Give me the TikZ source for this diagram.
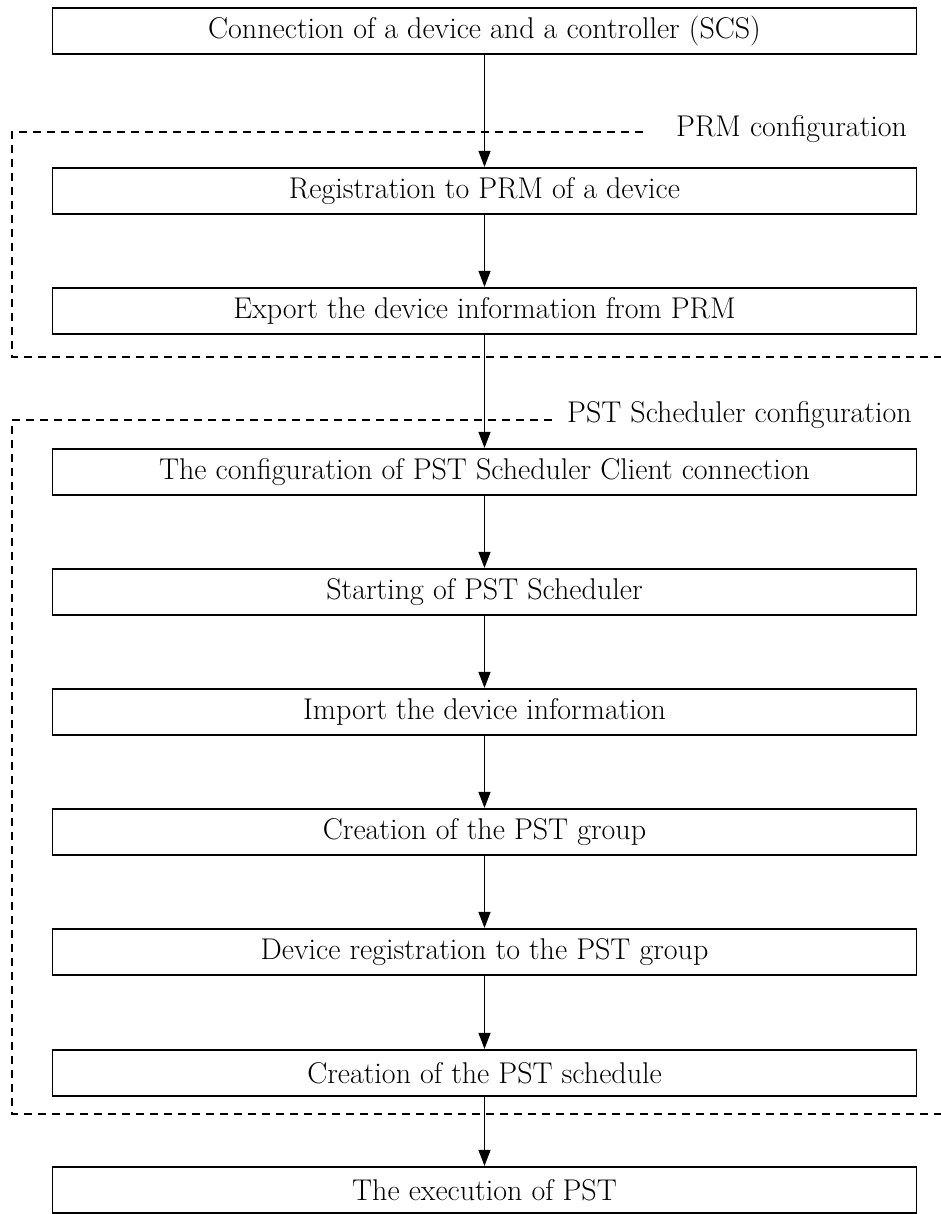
\documentclass[tikz,border=0pt]{standalone}
\usepackage{xcolor}
\usepackage{tikz}
\usetikzlibrary{arrows.meta}

\begin{document}
\begin{tikzpicture}[x=1pt,y=-1pt]
% Define sizes
\newlength{\boxwidth}
\setlength{\boxwidth}{864pt}
\newlength{\boxheight}
\setlength{\boxheight}{46.5pt}

% Define styles
\tikzset{
  stepbox/.style={draw, line width=1.7pt, minimum width=\boxwidth, minimum height=\boxheight,
    inner sep=0pt, font=\fontsize{30}{36}\selectfont},
  flow/.style={-{Triangle[length=16pt,width=12pt]}, line width=1.2pt},
  groupline/.style={line width=1.6pt, dash pattern=on 8pt off 6pt},
  grouplabel/.style={anchor=base west, inner sep=0pt, font=\fontsize{30}{36}\selectfont}
}

% Page size
\useasboundingbox (0,0) rectangle (941,1214);

% Steps
\node[stepbox] (conn) at (484.5,31) {Connection of a device and a controller (SCS)};
\node[stepbox] (reg) at (484.5,191) {Registration to PRM of a device};
\node[stepbox] (export) at (484.5,311) {Export the device information from PRM};
\node[stepbox] (clientcfg) at (484.5,472) {The configuration of PST Scheduler Client connection};
\node[stepbox] (start) at (484.5,592) {Starting of PST Scheduler};
\node[stepbox] (import) at (484.5,712) {Import the device information};
\node[stepbox] (group) at (484.5,832) {Creation of the PST group};
\node[stepbox] (devreg) at (484.5,952) {Device registration to the PST group};
\node[stepbox] (schedule) at (484.5,1073) {Creation of the PST schedule};
\node[stepbox] (exec) at (484.5,1190) {The execution of PST};

% Dashed group frames
\draw[groupline] (643,132) -- (12,132) -- (12,357) -- (941,357);
\node[grouplabel] (prmlabel) at (676,137) {PRM configuration};
\draw[groupline] (552,420) -- (12,420) -- (12,1114) -- (941,1114);
\node[grouplabel] (pstlabel) at (567,422) {PST Scheduler configuration};

% Arrows
\draw[flow] (conn) -- (reg);
\draw[flow] (reg) -- (export);
\draw[flow] (export) -- (clientcfg);
\draw[flow] (clientcfg) -- (start);
\draw[flow] (start) -- (import);
\draw[flow] (import) -- (group);
\draw[flow] (group) -- (devreg);
\draw[flow] (devreg) -- (schedule);
\draw[flow] (schedule) -- (exec);
\end{tikzpicture}
\end{document}
